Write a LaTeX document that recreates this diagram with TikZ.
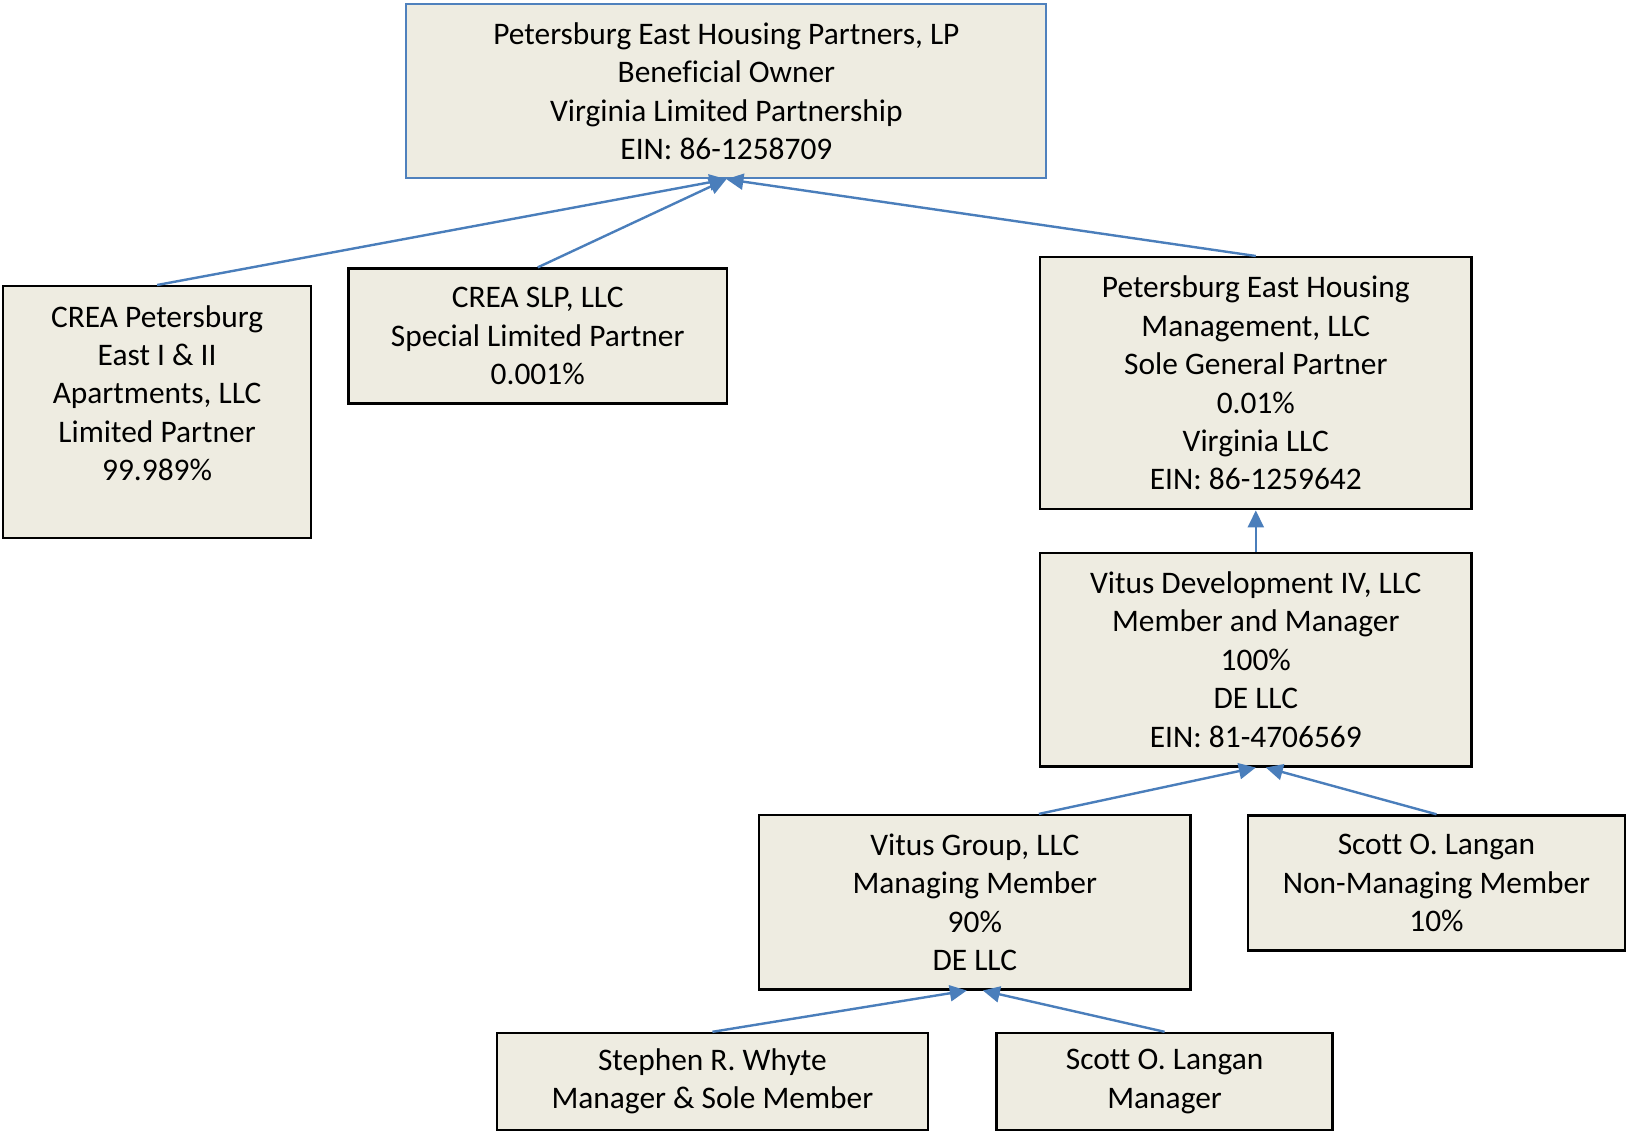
\documentclass[tikz,border=0pt]{standalone}
\usepackage{fontspec}
\setmainfont{Carlito}[Ligatures=CommonOff]
\usetikzlibrary{arrows.meta}
\definecolor{Paper}{HTML}{EEECE1}
\definecolor{Steel}{HTML}{4F81BD}
\definecolor{Wire}{HTML}{4A7EBB}
\begin{document}
\begin{tikzpicture}[x=0.5pt,y=-0.5pt,every node/.style={font=\fontsize{15.7}{19.2}\selectfont,align=center,inner sep=0pt},box/.style={draw=black,line width=1.2pt,fill=Paper},headbox/.style={box,draw=Steel,line width=1pt},link/.style={draw=Wire,line width=1.2pt,-{Triangle[length=8.5pt,width=8pt]}}]
\useasboundingbox[fill=white] (0,0) rectangle (1626,1131);
\node[headbox,minimum width=320pt,minimum height=87pt] (owner) at (726.4,91.2) {Petersburg East Housing Partners, LP\\Beneficial Owner\\Virginia Limited Partnership\\EIN: 86-1258709};

\node[box,minimum width=154pt,minimum height=126pt] (crea) at (157.1,412.2) {CREA Petersburg\\East I \& II\\Apartments, LLC\\Limited Partner\\99.989\%\\~};
\node[box,minimum width=189.3pt,minimum height=67.4pt] (slp) at (537.7,336) {CREA SLP, LLC\\Special Limited Partner\\0.001\%};
\node[box,minimum width=215.7pt,minimum height=126pt] (gp) at (1255.8,383.2) {Petersburg East Housing\\Management, LLC\\Sole General Partner\\0.01\%\\Virginia LLC\\EIN: 86-1259642};
\node[box,minimum width=215.7pt,minimum height=106.8pt] (vdev) at (1255.8,659.5) {Vitus Development IV, LLC\\Member and Manager\\100\%\\DE LLC\\EIN: 81-4706569};
\node[box,minimum width=215.7pt,minimum height=87.1pt] (vgroup) at (974.8,902.2) {Vitus Group, LLC\\Managing Member\\90\%\\DE LLC};
\node[box,minimum width=188.5pt,minimum height=67.5pt] (langannm) at (1436.5,883) {Scott O. Langan\\Non-Managing Member\\10\%};
\node[box,minimum width=215.7pt,minimum height=48.5pt] (whyte) at (712.4,1081.5) {Stephen R. Whyte\\Manager \& Sole Member};
\node[box,minimum width=168pt,minimum height=48.5pt] (langanmgr) at (1164.6,1081.5) {Scott O. Langan\\Manager};

% ownership links
\draw[link] (crea.north) -- (owner.south);\draw[link] (slp.north) -- (owner.south);\draw[link] (gp.north) -- (owner.south);
\draw[link] (vdev.north) -- (gp.south);
\draw[link] (vdev.south west |- vgroup.north) -- (vdev.south);\draw[link] (langannm.north) -- ([xshift=5pt]vdev.south);
\draw[link] (whyte.north) -- ([xshift=-4pt]vgroup.south);\draw[link] (langanmgr.north) -- ([xshift=4pt]vgroup.south);
\end{tikzpicture}
\end{document}
